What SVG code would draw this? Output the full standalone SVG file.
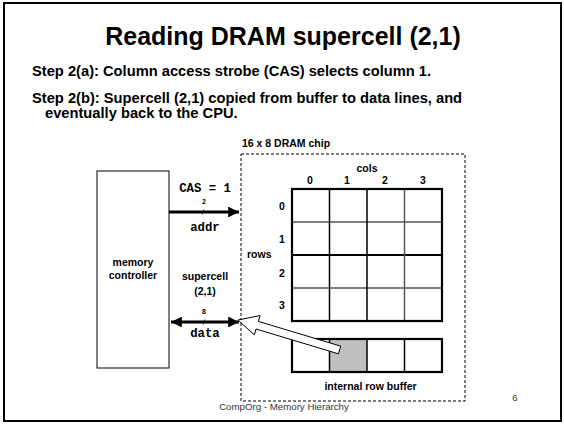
<svg xmlns="http://www.w3.org/2000/svg" width="564" height="424" viewBox="0 0 564 424">
<style>
text{font-family:"Liberation Sans",Arial,sans-serif;fill:#000}
.b{font-weight:bold}
.lbl{font-weight:bold;font-size:10.5px}
.mono{font-family:"Liberation Mono","Courier New",monospace;font-weight:bold;font-size:12.3px}
.bus{stroke:#000;stroke-width:3;fill:none}
</style>
<defs>
<marker id="ah" viewBox="0 0 10 10" refX="10" refY="5" markerWidth="3.6" markerHeight="3.6" markerUnits="strokeWidth" orient="auto-start-reverse">
<path d="M0,0 L10,5 L0,10 Z" fill="#000"/>
</marker>
</defs>
<rect x="4" y="3" width="557" height="418" fill="#fff" stroke="#000" stroke-width="2"/>
<text x="283" y="45" text-anchor="middle" class="b" font-size="25">Reading DRAM supercell (2,1)</text>
<text x="32" y="76" class="b" font-size="14.7">Step 2(a): Column access strobe (CAS) selects column 1.</text>
<text x="32" y="103" class="b" font-size="14.7">Step 2(b): Supercell (2,1) copied from buffer to data lines, and</text>
<text x="45" y="118" class="b" font-size="14.7">eventually back to the CPU.</text>

<g id="chip">
<rect x="241" y="154" width="224" height="247" fill="none" stroke="#000" stroke-width="1" stroke-dasharray="3,2"/>
<text x="242" y="147" class="lbl">16 x 8 DRAM chip</text>
</g>

<g id="memory-controller">
<rect x="97" y="171" width="72" height="197" fill="#fff" stroke="#000" stroke-width="1"/>
<text x="133" y="266" text-anchor="middle" class="lbl">memory</text>
<text x="133" y="279" text-anchor="middle" class="lbl">controller</text>
</g>

<g id="array">
<text x="367" y="172" text-anchor="middle" class="lbl">cols</text>
<text x="310" y="184" text-anchor="middle" class="lbl">0</text>
<text x="347" y="184" text-anchor="middle" class="lbl">1</text>
<text x="385" y="184" text-anchor="middle" class="lbl">2</text>
<text x="423" y="184" text-anchor="middle" class="lbl">3</text>
<text x="282" y="210" text-anchor="middle" class="lbl">0</text>
<text x="282" y="243" text-anchor="middle" class="lbl">1</text>
<text x="282" y="277" text-anchor="middle" class="lbl">2</text>
<text x="282" y="309" text-anchor="middle" class="lbl">3</text>
<text x="247" y="258" class="lbl">rows</text>
<rect x="292" y="189" width="150" height="132" fill="#fff" stroke="none"/>
<g stroke="#000" stroke-width="1.5">
<line x1="292" y1="222" x2="442" y2="222" stroke="#555"/>
<line x1="292" y1="255" x2="442" y2="255" stroke-width="2"/>
<line x1="292" y1="288" x2="442" y2="288" stroke="#555"/>
<line x1="329.5" y1="189" x2="329.5" y2="321"/>
<line x1="367" y1="189" x2="367" y2="321"/>
<line x1="404.5" y1="189" x2="404.5" y2="321" stroke="#555"/>
</g>
<rect x="292" y="189" width="150" height="132" fill="none" stroke="#000" stroke-width="2.2"/>
</g>

<g id="row-buffer">
<rect x="292" y="339" width="150" height="33" fill="#fff"/>
<rect x="329.5" y="339" width="37.5" height="33" fill="#c0c0c0"/>
<g stroke="#000" stroke-width="1.5">
<line x1="329.5" y1="339" x2="329.5" y2="372"/>
<line x1="367" y1="339" x2="367" y2="372"/>
<line x1="404.5" y1="339" x2="404.5" y2="372"/>
</g>
<rect x="292" y="339" width="150" height="33" fill="none" stroke="#000" stroke-width="2.2"/>
<text x="370.5" y="390" text-anchor="middle" class="lbl">internal row buffer</text>
</g>

<g id="connectors">
<line x1="169" y1="212" x2="239" y2="212" class="bus" marker-end="url(#ah)"/>
<line x1="171" y1="322" x2="239" y2="322" class="bus" marker-start="url(#ah)" marker-end="url(#ah)"/>
<line x1="202" y1="214.5" x2="204" y2="209.5" stroke="#000" stroke-width="0.8"/>
<line x1="203" y1="324.5" x2="205" y2="319.5" stroke="#000" stroke-width="0.8"/>
<polygon points="238,320 260.1,315.6 258.4,321.4 340.8,346.2 338.4,353.8 256,329 254.3,334.8" fill="#fff" stroke="#000" stroke-width="1"/>
</g>

<g id="bus-labels">
<text x="205" y="192" text-anchor="middle" class="mono">CAS = 1</text>
<text x="204" y="204" text-anchor="middle" class="b" font-size="7">2</text>
<text x="205" y="231" text-anchor="middle" class="mono">addr</text>
<text x="205" y="280" text-anchor="middle" class="lbl">supercell</text>
<text x="205" y="295" text-anchor="middle" class="lbl">(2,1)</text>
<text x="204" y="314" text-anchor="middle" class="b" font-size="7">8</text>
<text x="205" y="337" text-anchor="middle" class="mono">data</text>
</g>

<text x="284" y="410" text-anchor="middle" font-size="9.7" style="fill:#333">CompOrg - Memory Hierarchy</text>
<text x="515" y="401" text-anchor="middle" font-size="9.5" style="fill:#333">6</text>
</svg>
